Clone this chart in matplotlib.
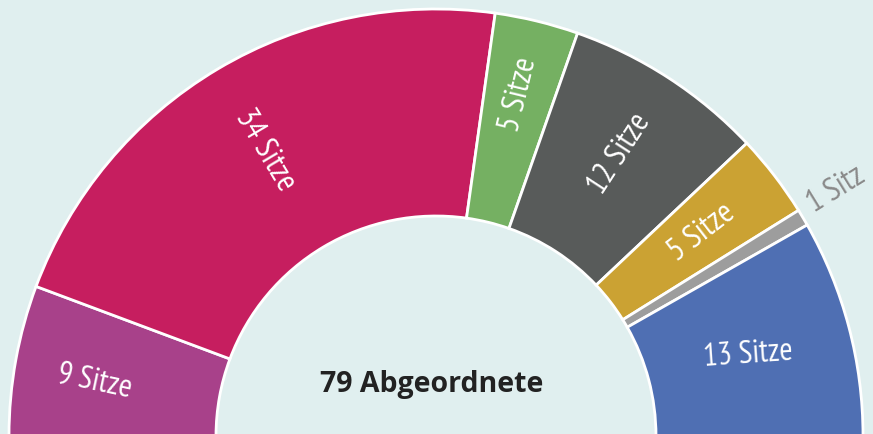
import numpy as np
import matplotlib

matplotlib.use("Agg")
import matplotlib.pyplot as plt
from matplotlib.patches import Wedge

# seats per group, left to right around the half ring
labels = ["9 Sitze", "34 Sitze", "5 Sitze", "12 Sitze", "5 Sitze", "1 Sitz", "13 Sitze"]
seats = [9, 34, 5, 12, 5, 1, 13]
colors = ["#a8418a", "#c61e5f", "#75b062", "#585b5a", "#cba233", "#9d9d9d", "#4f6fb3"]
center_text = "79 Abgeordnete"

BG = "#e0efef"
W, H = 873, 435
CX, CY = 436, -2          # ring centre in pixel coords (y up)
R_OUT, R_IN = 427, 220

fig = plt.figure(figsize=(W / 100, H / 100), dpi=100, facecolor=BG)
ax = fig.add_axes([0, 0, 1, 1])
ax.set_xlim(0, W)
ax.set_ylim(0, H)
ax.set_facecolor(BG)
ax.axis("off")

total = sum(seats)
edges = 180 - 180 * np.concatenate([[0], np.cumsum(seats)]) / total
narrow = ["PT Sans Narrow", "Fira Sans Condensed", "DejaVu Sans"]

# label radius / angle / rotation tweaks (style only)
label_r = {0: 346, 1: 334, 2: 352, 3: 337, 4: 335, 5: 470, 6: 323}
angle_shift = {0: 1.0, 5: 0.9}
rot_override = {0: -12, 6: 4}

for i, (lab, col) in enumerate(zip(labels, colors)):
    t2, t1 = edges[i], edges[i + 1]
    ax.add_patch(Wedge((CX, CY), R_OUT, t1, t2, width=R_OUT - R_IN,
                       facecolor=col, edgecolor="white", linewidth=2))
    mid = (t1 + t2) / 2 + angle_shift.get(i, 0)
    r = label_r[i]
    x = CX + r * np.cos(np.radians(mid))
    y = CY + r * np.sin(np.radians(mid))
    rot = mid if mid <= 90 else mid - 180
    rot = rot_override.get(i, rot)
    tc = "#8a8a8a" if i == 5 else "white"
    ax.text(x, y, lab, rotation=rot, rotation_mode="anchor", ha="center", va="center",
            fontsize=23, color=tc, family=narrow)

ax.text(432, 50, center_text, ha="center", va="center", fontsize=20.5,
        fontweight="bold", color="#222222", family=["Open Sans", "DejaVu Sans"])

fig.savefig("out.png", dpi=100, facecolor=BG)
